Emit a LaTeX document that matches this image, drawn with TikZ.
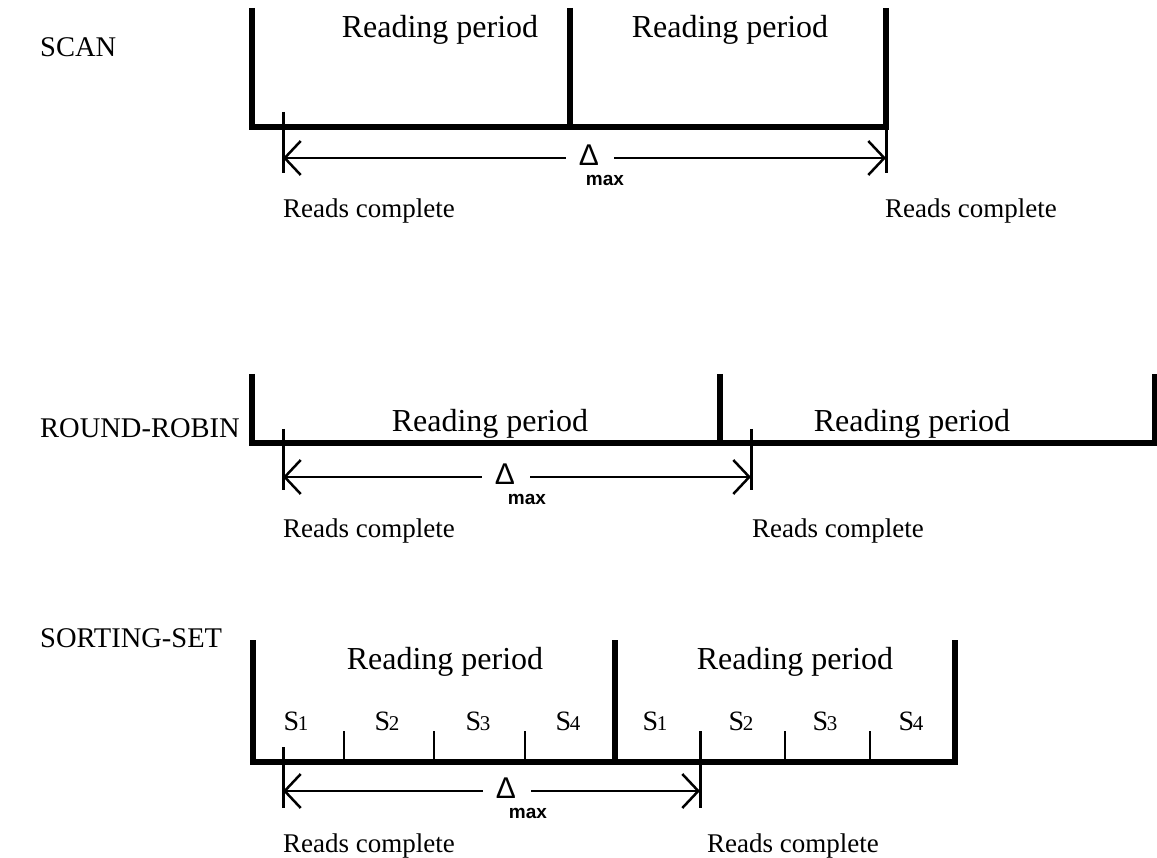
\documentclass[tikz,border=0pt]{standalone}
\usepackage{fontspec}
\setmainfont{Liberation Serif}
\newfontfamily\dsans{Liberation Sans}
\usetikzlibrary{arrows.meta}
\tikzset{
  frame/.style={line width=5.5pt, line cap=butt, line join=miter},
  tickline/.style={line width=3pt},
  subtick/.style={line width=2.5pt},
  dimline/.style={line width=2.2pt, -{Straight Barb[length=16pt,width=34pt,line width=2.5pt]}},
  big/.style={inner sep=0pt, font=\fontsize{32}{36}\selectfont},
  lbl/.style={inner sep=0pt, anchor=base west, font=\fontsize{28.5}{34}\selectfont},
  rc/.style={inner sep=0pt, anchor=base west, font=\fontsize{27}{32}\selectfont},
  dl/.style={inner sep=0pt, font=\dsans\fontsize{30}{32}\selectfont},
  mx/.style={inner sep=0pt, font=\dsans\bfseries\fontsize{19}{21}\selectfont},
  sl/.style={inner sep=0pt, anchor=base, font=\fontsize{28}{30}\selectfont},
}
\newcommand{\Ssub}[1]{S\kern-1.5pt{\fontsize{21}{21}\selectfont #1}}
\begin{document}
\begin{tikzpicture}[x=1pt,y=-1pt]
\useasboundingbox (0,0) rectangle (1157,858);

% ===== SCAN =====
\node[lbl] (scanlbl) at (40,57) {SCAN};
\draw[frame] (252,8) -- (252,127) -- (886,127) -- (886,8);
\draw[frame] (570,8) -- (570,127);
\node[big] (scanrp1) at (440,30) {Reading period};
\node[big] (scanrp2) at (730,30) {Reading period};
\coordinate (scanA) at (283,158);
\coordinate (scanB) at (886,158);
\draw[tickline] (283,112) -- (283,173);
\draw[tickline] (886,127) -- (886,173);
\node[dl] (scand) at (589,155) {Δ};
\node[mx] (scanm) at (605,180) {max};
\draw[dimline] ([xshift=-13pt]scand.west |- scanA) -- (scanA);
\draw[dimline] ([xshift=15pt]scand.east |- scanB) -- (scanB);
\node[rc] (scanrc1) at (283,218) {Reads complete};
\node[rc] (scanrc2) at (885,218) {Reads complete};

% ===== ROUND-ROBIN =====
\node[lbl] (rrlbl) at (40,438) {ROUND-ROBIN};
\draw[frame] (252,374) -- (252,443) -- (1155,443) -- (1155,374);
\draw[frame] (720,374) -- (720,443);
\node[big] (rrrp1) at (490,424) {Reading period};
\node[big] (rrrp2) at (912,424) {Reading period};
\coordinate (rrA) at (283,477);
\coordinate (rrB) at (751,477);
\draw[tickline] (283,429) -- (283,490);
\draw[tickline] (751,429) -- (751,490);
\node[dl] (rrd) at (505,474) {Δ};
\node[mx] (rrm) at (527,499) {max};
\draw[dimline] ([xshift=-13pt]rrd.west |- rrA) -- (rrA);
\draw[dimline] ([xshift=15pt]rrd.east |- rrB) -- (rrB);
\node[rc] (rrrc1) at (283,537) {Reads complete};
\node[rc] (rrrc2) at (752,537) {Reads complete};

% ===== SORTING-SET =====
\node[lbl] (sslbl) at (40,647) {SORTING-SET};
\draw[frame] (253,640) -- (253,762) -- (955,762) -- (955,640);
\draw[frame] (615,640) -- (615,762);
\node[big] (ssrp1) at (445,662) {Reading period};
\node[big] (ssrp2) at (795,662) {Reading period};
\foreach \x in {344,434,525,785,870} {\draw[subtick] (\x,731) -- (\x,762);}
\draw[tickline] (283,747) -- (283,808);
\draw[tickline] (700,731) -- (700,808);
\node[sl] (s11) at (296,730) {\Ssub{1}};
\node[sl] (s12) at (387,730) {\Ssub{2}};
\node[sl] (s13) at (478,730) {\Ssub{3}};
\node[sl] (s14) at (568,730) {\Ssub{4}};
\node[sl] (s21) at (655,730) {\Ssub{1}};
\node[sl] (s22) at (741,730) {\Ssub{2}};
\node[sl] (s23) at (825,730) {\Ssub{3}};
\node[sl] (s24) at (911,730) {\Ssub{4}};
\coordinate (ssA) at (283,791);
\coordinate (ssB) at (700,791);
\node[dl] (ssd) at (506,788) {Δ};
\node[mx] (ssm) at (528,813) {max};
\draw[dimline] ([xshift=-13pt]ssd.west |- ssA) -- (ssA);
\draw[dimline] ([xshift=15pt]ssd.east |- ssB) -- (ssB);
\node[rc] (ssrc1) at (283,852) {Reads complete};
\node[rc] (ssrc2) at (707,852) {Reads complete};
\end{tikzpicture}
\end{document}
